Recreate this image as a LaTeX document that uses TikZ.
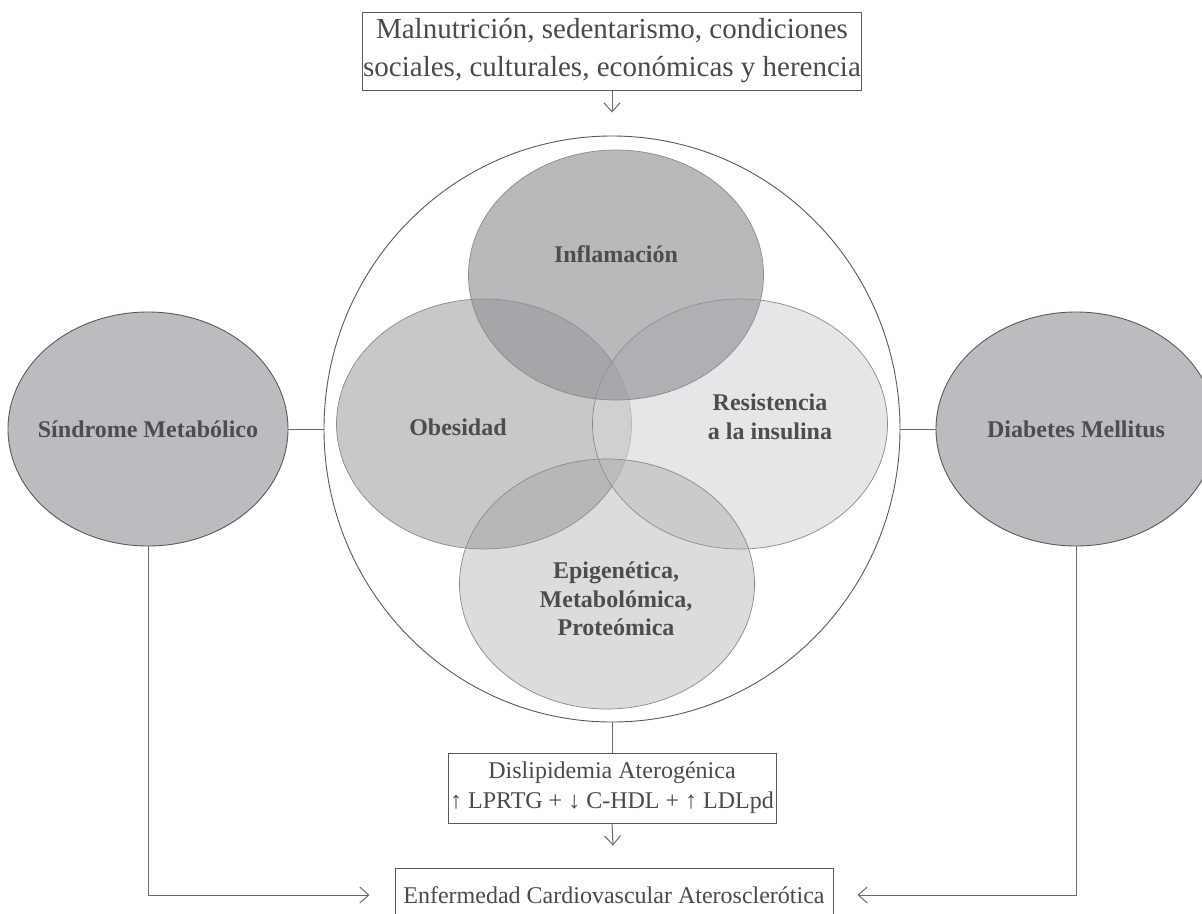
\documentclass[tikz,border=0pt]{standalone}
\usepackage{fontspec}
\setmainfont{Liberation Serif}
\usetikzlibrary{shapes.geometric,arrows.meta}
\definecolor{txt}{HTML}{4A4A4A}
\definecolor{lbl}{HTML}{4D4D4F}
\definecolor{edge}{HTML}{5A5A5A}
\definecolor{conn}{HTML}{6A6A6A}
\definecolor{thin}{HTML}{8A8A8C}
\definecolor{sidefill}{HTML}{BBBCBF}
\definecolor{cObes}{rgb}{0.50,0.505,0.515}
\definecolor{cRes}{rgb}{0.84,0.84,0.85}
\definecolor{cInfl}{rgb}{0.575,0.58,0.595}
\definecolor{cEpi}{rgb}{0.58,0.58,0.59}
\tikzset{
  box/.style={draw=edge, line width=1pt, fill=white, text=txt, align=center, inner sep=0pt},
  sidell/.style={ellipse, draw=edge, line width=0.9pt, fill=sidefill, minimum width=280pt, minimum height=234pt, inner sep=0pt},
  inell/.style={ellipse, draw=thin, line width=0.7pt, minimum width=295pt, minimum height=250pt, inner sep=0pt},
  lab/.style={text=lbl, align=center, font=\fontsize{24}{28.5}\selectfont\bfseries},
  conline/.style={draw=conn, line width=1pt},
  arr/.style={conline, -{Straight Barb[length=9pt,width=16pt,line width=1pt]}},
}
\begin{document}
\begin{tikzpicture}[x=1pt,y=-1pt]
\clip (0,0) rectangle (1202,913);
\fill[white] (0,0) rectangle (1202,913);

% top box
\node[box, minimum width=499pt, minimum height=78pt, font=\fontsize{29}{38}\selectfont] (top) at (612,51)
  {\raisebox{-2pt}{\parbox{499pt}{\centering Malnutrición, sedentarismo, condiciones\\sociales, culturales, económicas y herencia}}};

% big circle
\node[ellipse, draw=edge, line width=0.9pt, minimum width=576pt, minimum height=586pt, inner sep=0pt] (big) at (612,429) {};

% inner ellipses
\node[inell, fill=cObes, fill opacity=0.43] (obes) at (484,424) {};
\node[inell, fill=cRes, fill opacity=0.6] (res) at (740,424) {};
\node[inell, fill=cInfl, fill opacity=0.65] (infl) at (616,275) {};
\node[inell, fill=cEpi, fill opacity=0.32] (epi) at (607,584) {};

\node[lab] (linfl) at (616,254) {Inflamación};
\node[lab] (lobes) at (458,427) {Obesidad};
\node[lab] (lres) at (770,417) {Resistencia\\a la insulina};
\node[lab] (lepi) at (616,599) {Epigenética,\\Metabolómica,\\Proteómica};

% side ellipses
\node[sidell] (sm) at (148,429) {};
\node[sidell] (dm) at (1076,429) {};
\node[lab] (lsm) at (sm.center) {Síndrome Metabólico};
\node[lab] (ldm) at (dm.center) {Diabetes Mellitus};

% dislipidemia box
\node[box, minimum width=328pt, minimum height=70pt, font=\fontsize{24}{30}\selectfont] (dis) at (612,788)
  {Dislipidemia Aterogénica\\↑ LPRTG + ↓ C-HDL + ↑ LDLpd};

% final box
\node[box, minimum width=438pt, minimum height=54pt, font=\fontsize{24}{30}\selectfont] (enf) at (614,895)
  {Enfermedad Cardiovascular Aterosclerótica};

% connectors
\draw[conline] (sm.east) -- (big.west);
\draw[conline] (big.east) -- (dm.west);
\draw[conline] (big.south) -- (dis.north);
\draw[arr, shorten >=23pt] (top.south) -- (big.north);
\draw[arr, shorten >=22pt] (dis.south) -- (enf.north);
\draw[arr, shorten >=25pt] (sm.south) |- (enf.west);
\draw[arr, shorten >=24pt] (dm.south) |- (enf.east);
\end{tikzpicture}
\end{document}
